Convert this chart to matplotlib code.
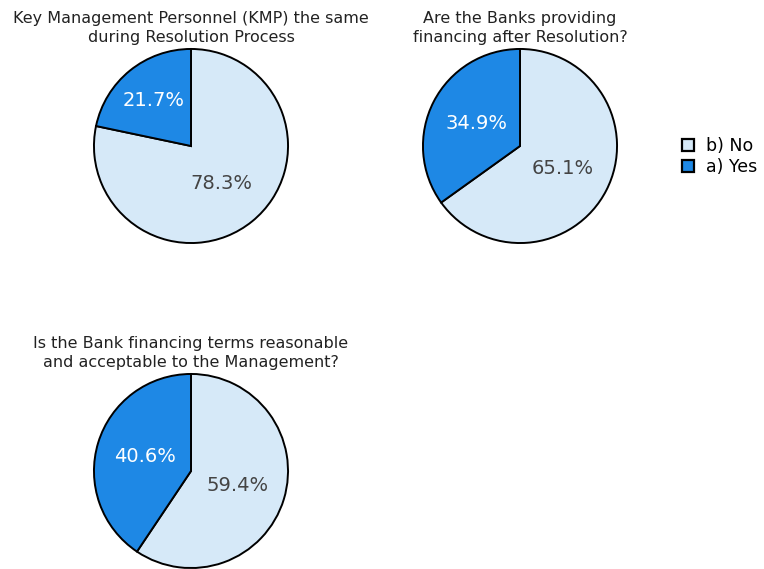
import matplotlib
matplotlib.use("Agg")
import matplotlib.pyplot as plt
import numpy as np
from matplotlib.patches import Patch

titles = [
    "Key Management Personnel (KMP) the same\nduring Resolution Process",
    "Are the Banks providing\nfinancing after Resolution?",
    "Is the Bank financing terms reasonable\nand acceptable to the Management?",
]
categories = ["b) No", "a) Yes"]
no_values = [78.3, 65.1, 59.4]
yes_values = [21.7, 34.9, 40.6]

colors = ["#d6e9f8", "#1e88e5"]
text_colors = ["#444444", "#ffffff"]

W, H = 764, 569
plt.rcParams["font.family"] = ["DejaVu Sans"]
fig = plt.figure(figsize=(W / 100, H / 100), dpi=100)

centers = [(191, 146), (520, 146), (191, 471)]
R = 98

for i, (cx, cy) in enumerate(centers):
    ax = fig.add_axes([(cx - R) / W, (H - cy - R) / H, 2 * R / W, 2 * R / H])
    vals = [no_values[i], yes_values[i]]
    wedges, _ = ax.pie(vals, colors=colors, startangle=90, counterclock=False,
                       radius=1.0, wedgeprops=dict(edgecolor="black", linewidth=1.4))
    total = sum(vals)
    for j, w in enumerate(wedges):
        mid = np.deg2rad((w.theta1 + w.theta2) / 2)
        frac = vals[j] / total
        dist = 0.61 if frac < 0.3 else 0.5
        ax.text(dist * np.cos(mid), dist * np.sin(mid), f"{vals[j]:.1f}%",
                ha="center", va="center", fontsize=14, color=text_colors[j])
    ax.set_xlim(-1.01, 1.01)
    ax.set_ylim(-1.01, 1.01)
    ax.set_aspect("equal")
    ax.axis("off")
    ax.text(0.5, 1.015, titles[i], transform=ax.transAxes, ha="center", va="bottom",
            fontsize=11.5, color="#222222", linespacing=1.3)

handles = [Patch(facecolor=colors[k], edgecolor="black", linewidth=1.6, label=categories[k])
           for k in range(2)]
fig.legend(handles=handles, loc="upper left", bbox_to_anchor=(682 / W, 1 - 137 / H),
           frameon=False, fontsize=12.5, handlelength=0.7, handleheight=0.7,
           handletextpad=0.7, labelspacing=0.17, borderpad=0, borderaxespad=0)

fig.savefig("out.png", dpi=100)
